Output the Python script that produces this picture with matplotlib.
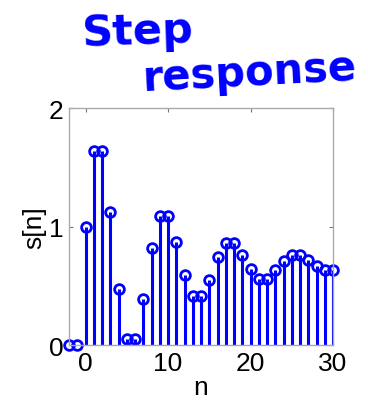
import matplotlib
matplotlib.use("Agg")
import matplotlib.pyplot as plt
import numpy as np

plt.rcParams['font.family'] = ['Liberation Sans', 'DejaVu Sans']

# step response samples s[n], n = -2 .. 30
n = np.arange(-2, 31)
s = [0, 0, 1.0, 1.64, 1.64, 1.125, 0.47, 0.05, 0.05, 0.39, 0.82,
     1.09, 1.09, 0.87, 0.59, 0.41, 0.41, 0.55, 0.74, 0.86, 0.86,
     0.76, 0.64, 0.56, 0.56, 0.63, 0.71, 0.76, 0.76, 0.72, 0.67,
     0.63, 0.63]
xticks = [0, 10, 20, 30]
yticks = [0, 1, 2]

fig = plt.figure(figsize=(3.68, 4.10), dpi=100)
ax = fig.add_axes([0.1875, 0.156, 0.7175, 0.578])

markerline, stemlines, baseline = ax.stem(n, s, linefmt='b-', markerfmt='bo', basefmt=' ')
plt.setp(stemlines, color='#0000ff', linewidth=2.2)
plt.setp(markerline, markerfacecolor='none', markeredgecolor='#0000ff',
         markersize=7, markeredgewidth=2)
markerline.set_clip_on(False)

ax.set_xlim(-2, 30)
ax.set_ylim(0, 2)
ax.set_xticks(xticks)
ax.set_yticks(yticks)
ax.tick_params(direction='in', length=3, width=0.8, color='#777777',
               labelsize=19, top=True, right=True, pad=4)
for sp in ax.spines.values():
    sp.set_color('#aaaaaa')
    sp.set_linewidth(1)
ax.set_xlabel('n', fontsize=19, labelpad=0)
ax.set_ylabel('s[n]', fontsize=19, labelpad=2)

# handwritten annotation
fig.text(0.22, 0.888, 'Step', fontsize=31, color='#0000ff', fontweight='bold',
         family='DejaVu Sans', rotation=2)
fig.text(0.385, 0.778, 'response', fontsize=30, color='#0000ff', fontweight='bold',
         family='DejaVu Sans', rotation=3)

plt.savefig('out.png', dpi=100)
